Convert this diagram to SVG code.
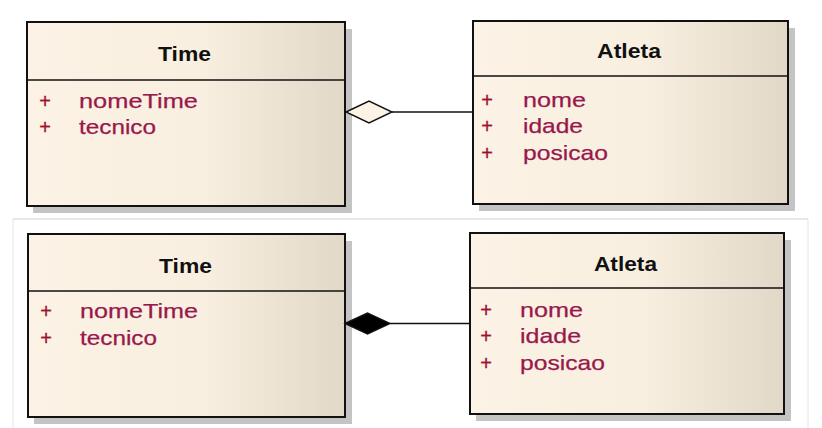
<svg xmlns="http://www.w3.org/2000/svg" width="822" height="428" viewBox="0 0 822 428">
<defs>
<linearGradient id="fill" x1="0" y1="0" x2="1" y2="0">
<stop offset="0" stop-color="#FCF2E5"/>
<stop offset="0.55" stop-color="#F9EFE0"/>
<stop offset="1" stop-color="#E2D8C7"/>
</linearGradient>
</defs>
<style>
.shadow{fill:#C4C4C4}
.box{fill:url(#fill);stroke:#111;stroke-width:2}
.sep{stroke:#111;stroke-width:1.6}
.title{font-family:"Liberation Sans",Arial,sans-serif;font-weight:bold;font-size:19.5px;fill:#111;text-anchor:middle}
.plus{font-family:"Liberation Sans",Arial,sans-serif;font-size:20px;fill:#A0102E;text-anchor:middle;stroke:#A0102E;stroke-width:0.3}
.attr{font-family:"Liberation Sans",Arial,sans-serif;font-size:21px;fill:#98184C;stroke:#98184C;stroke-width:0.25}
.conn{stroke:#111;stroke-width:1.6;fill:none}
.panelTop{stroke:#D2D2D2;stroke-width:1.2;fill:none}
.panelSide{stroke:#E4E4E4;stroke-width:1;fill:none}
</style>
<rect width="822" height="428" fill="#fff"/>
<path class="panelSide" d="M13,430 V219 M808,219 V430"/>
<path class="panelTop" d="M13,219 H808"/>

<g id="time1">
<rect class="shadow" x="33" y="29" width="319" height="184"/>
<rect class="box" x="27" y="22" width="318" height="184"/>
<line class="sep" x1="27" y1="80" x2="345" y2="80"/>
<text class="title" x="184.5" y="61" textLength="53" lengthAdjust="spacingAndGlyphs">Time</text>
<text class="plus" x="45" y="108">+</text>
<text class="attr" x="79" y="108" textLength="119" lengthAdjust="spacingAndGlyphs">nomeTime</text>
<text class="plus" x="45" y="134">+</text>
<text class="attr" x="79" y="134" textLength="77" lengthAdjust="spacingAndGlyphs">tecnico</text>
</g>

<g id="atleta1">
<rect class="shadow" x="479" y="28" width="316" height="183"/>
<rect class="box" x="473" y="21" width="315" height="183"/>
<line class="sep" x1="473" y1="76" x2="788" y2="76"/>
<text class="title" x="629" y="58" textLength="64" lengthAdjust="spacingAndGlyphs">Atleta</text>
<text class="plus" x="487" y="107">+</text>
<text class="attr" x="523" y="107" textLength="63" lengthAdjust="spacingAndGlyphs">nome</text>
<text class="plus" x="487" y="133">+</text>
<text class="attr" x="523" y="133" textLength="60" lengthAdjust="spacingAndGlyphs">idade</text>
<text class="plus" x="487" y="160">+</text>
<text class="attr" x="523" y="160" textLength="85" lengthAdjust="spacingAndGlyphs">posicao</text>
</g>

<g id="time2">
<rect class="shadow" x="34" y="241" width="318" height="183"/>
<rect class="box" x="28" y="234" width="317" height="183"/>
<line class="sep" x1="28" y1="291" x2="345" y2="291"/>
<text class="title" x="185.5" y="273" textLength="53" lengthAdjust="spacingAndGlyphs">Time</text>
<text class="plus" x="46" y="318">+</text>
<text class="attr" x="80" y="318" textLength="118" lengthAdjust="spacingAndGlyphs">nomeTime</text>
<text class="plus" x="46" y="345">+</text>
<text class="attr" x="80" y="345" textLength="77" lengthAdjust="spacingAndGlyphs">tecnico</text>
</g>

<g id="atleta2">
<rect class="shadow" x="476" y="240" width="315" height="181"/>
<rect class="box" x="470" y="233" width="314" height="181"/>
<line class="sep" x1="470" y1="288" x2="784" y2="288"/>
<text class="title" x="625.5" y="271" textLength="63" lengthAdjust="spacingAndGlyphs">Atleta</text>
<text class="plus" x="486" y="317">+</text>
<text class="attr" x="520" y="317" textLength="63" lengthAdjust="spacingAndGlyphs">nome</text>
<text class="plus" x="486" y="343">+</text>
<text class="attr" x="520" y="343" textLength="61" lengthAdjust="spacingAndGlyphs">idade</text>
<text class="plus" x="486" y="370">+</text>
<text class="attr" x="520" y="370" textLength="85" lengthAdjust="spacingAndGlyphs">posicao</text>
</g>

<g id="connectors">
<line class="conn" x1="392" y1="112" x2="473" y2="112"/>
<polygon points="346,112 369,101 392,112 369,123" fill="#FCF2E5" stroke="#111" stroke-width="1.4"/>
<line class="conn" x1="390" y1="323.5" x2="470" y2="323.5"/>
<polygon points="345,323.5 367.5,313 390,323.5 367.5,334" fill="#000" stroke="#111" stroke-width="1.4"/>
</g>
</svg>
